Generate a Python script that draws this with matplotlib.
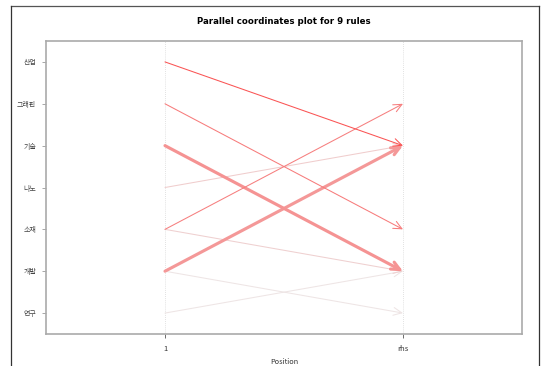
import matplotlib
matplotlib.use("Agg")
import matplotlib.pyplot as plt
from matplotlib.patches import FancyArrowPatch
from matplotlib.lines import Line2D
import numpy as np

plt.rcParams['font.family'] = ['Noto Sans CJK KR', 'DejaVu Sans']

# Data
items = ['연구', '개발', '소재', '나노', '기술', '그래핀', '산업']
positions = ['1', 'rhs']
lhs = ['산업', '그래핀', '기술', '나노', '소재', '소재', '개발', '개발', '연구']
rhs = ['기술', '소재', '개발', '기술', '그래핀', '개발', '기술', '연구', '개발']
support = [0.10, 0.10, 0.30, 0.10, 0.10, 0.10, 0.30, 0.10, 0.10]
lift = [1.00, 0.74, 0.58, 0.20, 0.72, 0.18, 0.55, 0.04, 0.04]

W, H = 542, 366
fig = plt.figure(figsize=(W / 100, H / 100), dpi=100)

ax = fig.add_axes([46 / W, 1 - 334 / H, (522 - 46) / W, (334 - 41) / H])
ax.set_xlim(0.5, 2.5)
ax.set_ylim(0.5, len(items) + 0.5)

ypos = {name: i + 1 for i, name in enumerate(items)}

c_low = np.array([0.93, 0.92, 0.92])
c_high = np.array([0.98, 0.33, 0.33])

# draw light ones first
order = np.argsort(lift)
for i in order:
    t = lift[i]
    col = tuple(c_low + (c_high - c_low) * t)
    lw = 0.75 + (support[i] - 0.10) / 0.20 * 1.5
    arr = FancyArrowPatch((1, ypos[lhs[i]]), (2, ypos[rhs[i]]),
                          arrowstyle='->,head_length=6,head_width=2.8',
                          mutation_scale=1, color=col, lw=lw,
                          shrinkA=0, shrinkB=0, zorder=3)
    ax.add_patch(arr)

for xv in (1, 2):
    ax.axvline(xv, color='#d8d8d8', lw=0.6, ls=(0, (1, 1.5)), zorder=1)

ax.set_yticks(range(1, len(items) + 1))
ax.set_yticklabels(items, fontsize=5, color='#444444')
ax.set_xticks([1, 2])
ax.set_xticklabels(positions, fontsize=5.5, color='#333333')
ax.tick_params(axis='y', length=3, width=0.6, color='#999999', pad=4)
ax.tick_params(axis='x', length=3, width=0.6, color='#555555', pad=5)
for s in ax.spines.values():
    s.set_color('#aaaaaa')
    s.set_linewidth(1.2)

fig.text(0.5 * (46 + 522) / W, 1 - 21 / H, 'Parallel coordinates plot for 9 rules',
         ha='center', va='center', fontsize=6.2, fontweight='bold',
         family=['DejaVu Sans'])
fig.text(0.5 * (46 + 522) / W, 1 - 362 / H, 'Position', ha='center', va='center',
         fontsize=5.3, color='#333333')

# outer frame
fig.add_artist(Line2D([11 / W, 539 / W], [1 - 6 / H, 1 - 6 / H], color='#555555', lw=0.9))
fig.add_artist(Line2D([11 / W, 11 / W], [1 - 6 / H, 0], color='#333333', lw=0.9))
fig.add_artist(Line2D([539 / W, 539 / W], [1 - 6 / H, 0], color='#333333', lw=0.9))

fig.savefig('out.png', dpi=100)
